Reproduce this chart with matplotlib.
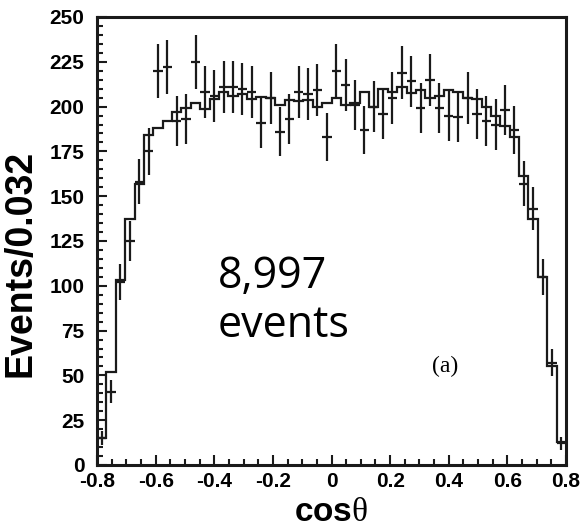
import numpy as np
import matplotlib
matplotlib.use("Agg")
import matplotlib.pyplot as plt
from matplotlib.ticker import MultipleLocator

plt.rcParams["mathtext.fontset"] = "custom"
plt.rcParams["mathtext.bf"] = "Liberation Sans:bold"
plt.rcParams["mathtext.rm"] = "Liberation Serif"

# cos(theta) binning: 50 bins of 0.032 from -0.8 to 0.8
edges = np.linspace(-0.8, 0.8, 51)
centers = 0.5 * (edges[:-1] + edges[1:])

# data points (events per bin)
data = [15, 41, 102, 125, 158, 175, 220, 222, 192, 193,
        225, 208, 206, 211, 211, 210, 208, 191, 205, 186,
        193, 208, 207, 209, 183, 220, 212, 201, 187, 200,
        196, 205, 219, 214, 199, 215, 199, 195, 194, 205,
        196, 192, 190, 198, 187, 157, 143, 105, 57, 12]
data_err = [4, 6.5, 10, 11, 12.5, 13, 15, 15, 14, 14,
            15, 14.5, 14.5, 14.5, 14.5, 14.5, 14.5, 14, 14.5, 13.5,
            14, 14.5, 14.5, 14.5, 13.5, 15, 14.5, 14, 13.5, 14,
            14, 14.5, 15, 14.5, 14, 14.5, 14, 14, 14, 14.5,
            14, 14, 14, 14, 13.5, 12.5, 12, 10, 7.5, 3.5]

# MC histogram
mc = [15, 52, 103, 137, 157, 184, 188, 192, 197, 199,
      202, 198.5, 204, 208, 206, 207, 204, 205.5, 205, 201,
      203.5, 203, 203.5, 200, 202, 205, 201, 202, 208, 200,
      210, 208, 211, 207.5, 209, 205, 206, 209, 208, 205,
      204, 200, 195, 189, 183, 161, 137, 105, 55, 13]

fig = plt.figure(figsize=(5.82, 5.29), dpi=100)
ax = fig.add_axes([0.1667, 0.121, 0.8058, 0.8469])

ax.stairs(mc, edges, baseline=None, color="#1a1a1a", lw=1.6)
ax.errorbar(centers, data, yerr=data_err, xerr=0.016, fmt="none",
            ecolor="#1a1a1a", elinewidth=1.6, capsize=0)

ax.set_xlim(-0.8, 0.8)
ax.set_ylim(0, 250)
ax.xaxis.set_major_locator(MultipleLocator(0.2))
ax.xaxis.set_minor_locator(MultipleLocator(0.05))
ax.yaxis.set_major_locator(MultipleLocator(25))
ax.yaxis.set_minor_locator(MultipleLocator(5))
ax.xaxis.set_major_formatter(plt.FuncFormatter(lambda v, p: "0" if abs(v) < 1e-9 else f"{v:g}"))
ax.tick_params(which="both", direction="in", top=False, right=False,
               width=1.5, color="#1a1a1a")
ax.tick_params(which="major", length=7.5, labelsize=15)
ax.tick_params(axis="x", which="major", pad=5)
ax.tick_params(axis="y", which="major", pad=9)
ax.tick_params(which="minor", length=4)
for s in ax.spines.values():
    s.set_linewidth(2.2)
    s.set_color("#1a1a1a")

for lab in ax.get_xticklabels() + ax.get_yticklabels():
    lab.set_fontfamily("Liberation Sans")
    lab.set_fontweight("bold")

ax.set_ylabel("Events/0.032", fontsize=27, fontweight="bold",
              family="Liberation Sans")
ax.yaxis.set_label_coords(-0.125, 0.45)
ax.set_xlabel(r"$\mathbf{cos}\mathrm{\theta}$", fontsize=24, labelpad=3)

ax.text(0.258, 0.365, "8,997\nevents", transform=ax.transAxes, fontsize=31,
        family="Open Sans", ha="left", va="center", linespacing=1.15)
ax.text(0.714, 0.22, "(a)", transform=ax.transAxes, fontsize=17,
        family="Liberation Serif", ha="left", va="center")

fig.savefig("out.png", dpi=100)
